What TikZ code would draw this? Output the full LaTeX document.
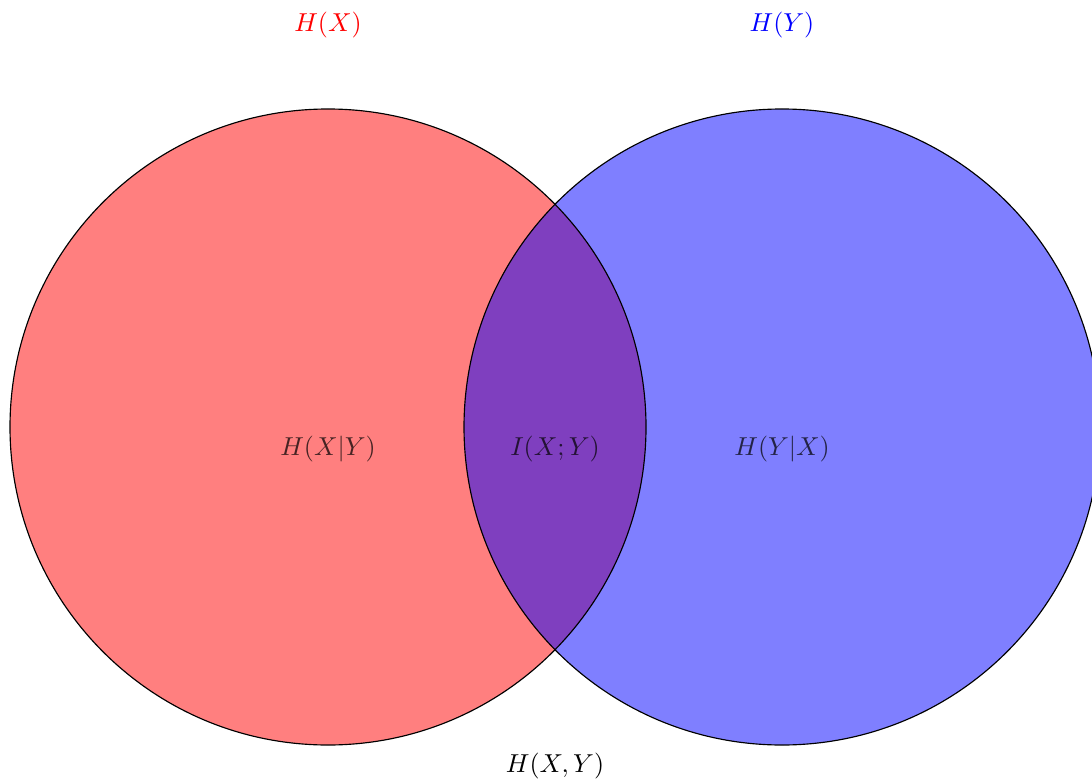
\documentclass[tikz,border=0pt]{standalone}
\begin{document}
\begin{tikzpicture}[x=0.3472pt,y=0.3472pt,
  lbl/.style={inner sep=0pt,scale=0.9},
  inlbl/.style={lbl,text opacity=0.72}]
\useasboundingbox (0,0) rectangle (1092,781);
% sets
\fill[red,fill opacity=0.5] (328,354) circle [radius=318];
\fill[blue,fill opacity=0.5] (782,354) circle [radius=318];
\draw[black,line width=0.4pt] (328,354) circle [radius=318];
\draw[black,line width=0.4pt] (782,354) circle [radius=318];
% inner labels
\node[inlbl] (hxy) at (328,332) {$H(X|Y)$};
\node[inlbl] (ixy) at (555,332) {$I(X;Y)$};
\node[inlbl] (hyx) at (782,332) {$H(Y|X)$};
% outer labels
\node[lbl,text=red] (hx) at (328,756) {$H(X)$};
\node[lbl,text=blue] (hy) at (782,756) {$H(Y)$};
\node[lbl] (hjoint) at (555,15) {$H(X,Y)$};
\end{tikzpicture}
\end{document}
